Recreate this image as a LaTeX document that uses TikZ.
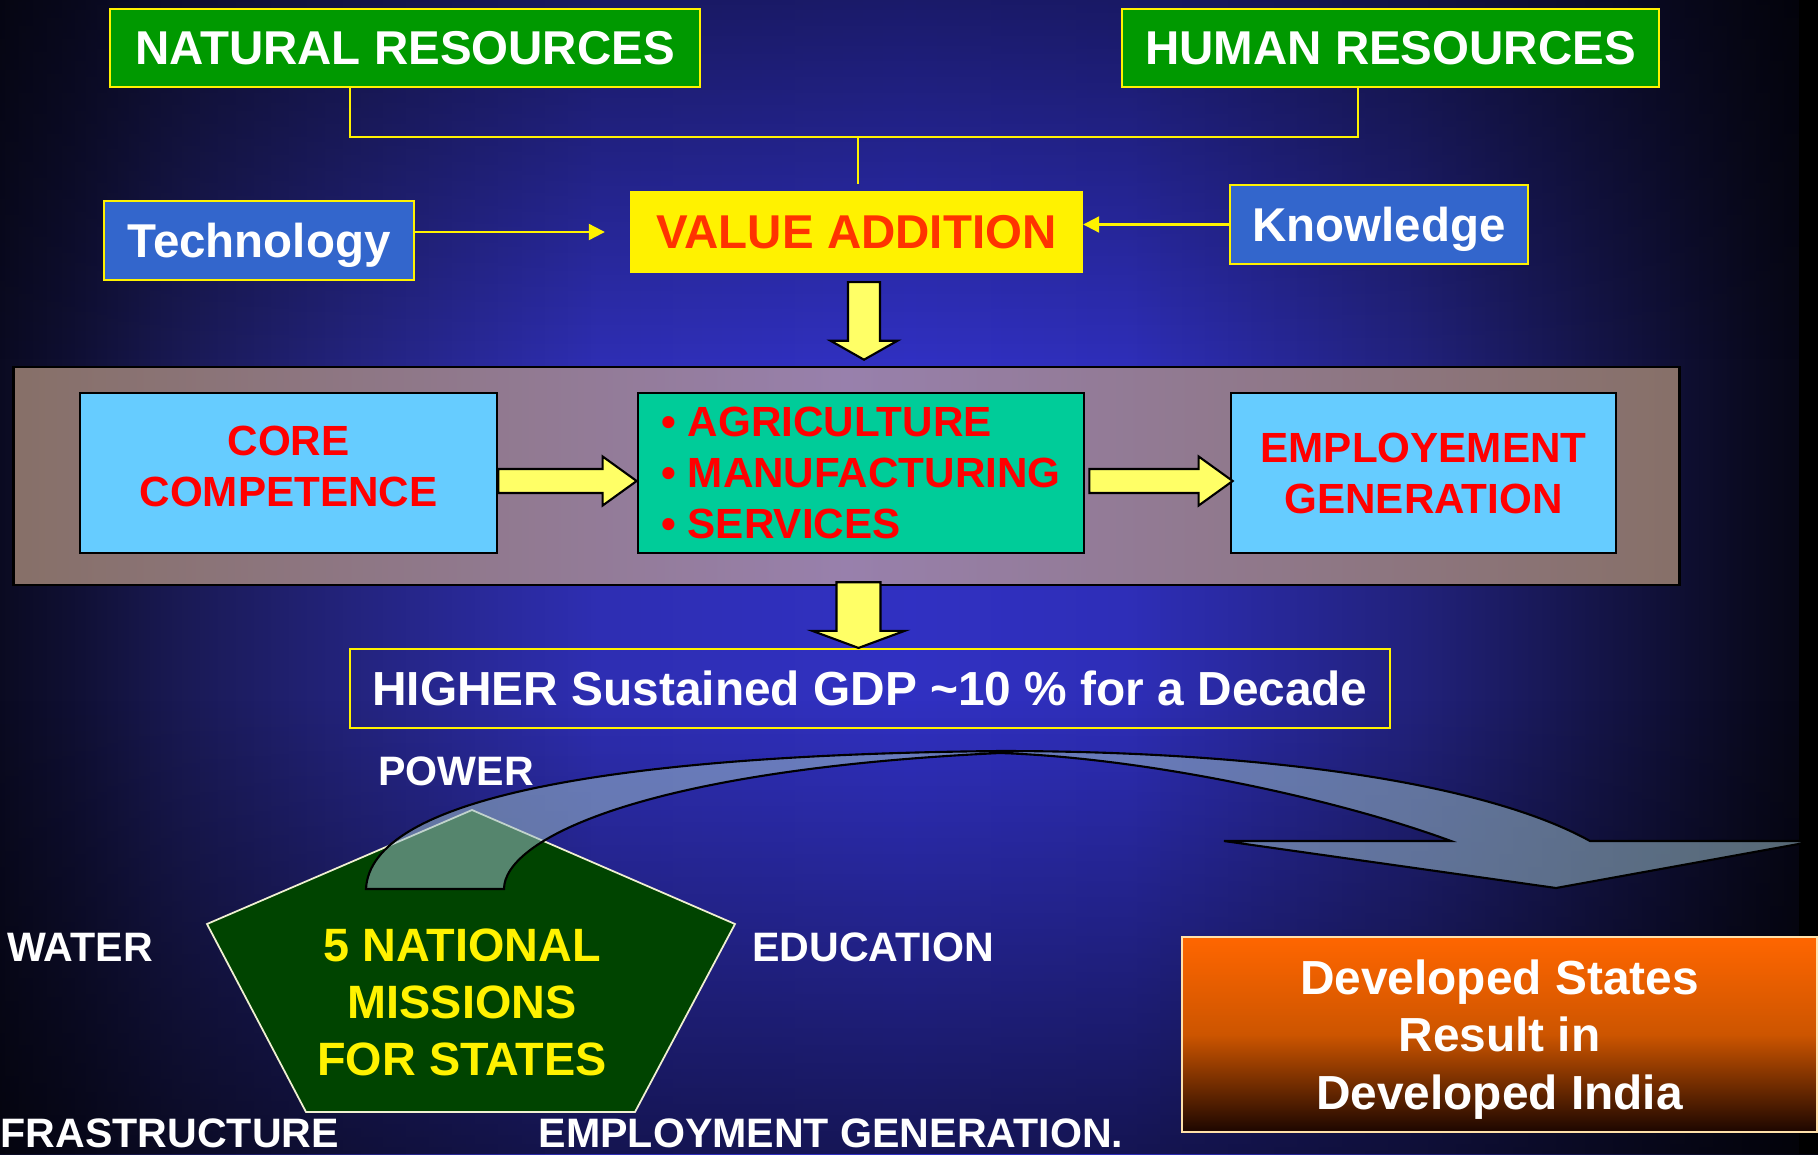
\documentclass[tikz,border=0pt]{standalone}
\usepackage{fontspec}
\setmainfont{Liberation Sans}
\usetikzlibrary{arrows.meta,calc,fadings}

\definecolor{resgreen}{RGB}{0,153,0}
\definecolor{keyblue}{RGB}{51,102,204}
\definecolor{vaorange}{RGB}{255,51,0}
\definecolor{stageblue}{RGB}{102,204,255}
\definecolor{stagegreen}{RGB}{0,204,153}
\definecolor{paleyellow}{RGB}{255,255,102}
\definecolor{bandedge}{RGB}{135,112,104}
\definecolor{bandmid}{RGB}{152,128,172}
\definecolor{pentagreen}{RGB}{0,68,0}
\definecolor{pentaedge}{RGB}{240,240,210}
\definecolor{ribbonblue}{RGB}{155,188,200}
\definecolor{devtop}{RGB}{255,102,0}
\definecolor{devmid}{RGB}{205,85,0}
\definecolor{devbottom}{RGB}{28,6,0}
\definecolor{devedge}{RGB}{255,225,170}

% slide background, dark at both sides
\pgfdeclarehorizontalshading{slidebg}{100bp}{rgb(0bp)=(0.04,0.04,0.13); rgb(25bp)=(0.04,0.04,0.13); rgb(27bp)=(0.06,0.06,0.2); rgb(30bp)=(0.1,0.1,0.33); rgb(35bp)=(0.14,0.14,0.5); rgb(41.5bp)=(0.18,0.18,0.7); rgb(50bp)=(0.19,0.19,0.76); rgb(56bp)=(0.18,0.18,0.72); rgb(64bp)=(0.13,0.13,0.48); rgb(69bp)=(0.08,0.08,0.28); rgb(73bp)=(0.04,0.04,0.13); rgb(75bp)=(0.02,0.02,0.07); rgb(100bp)=(0.02,0.02,0.07)}

\tikzset{
	resbox/.style={draw=yellow, line width=0.6pt, fill=resgreen, text=white, minimum height=0.78cm, inner sep=0pt, text depth=0pt, font=\bfseries\fontsize{13.5}{16}\selectfont},
	keybox/.style={resbox, fill=keyblue, minimum height=0.79cm},
	vabox/.style={resbox, fill=yellow, text=vaorange, minimum width=4.51cm, minimum height=0.8cm},
	bandbox/.style={draw=black, line width=0.7pt, left color=bandedge, right color=bandedge, middle color=bandmid, minimum width=16.65cm, minimum height=2.18cm, inner sep=0pt},
	stagebox/.style={draw=black, line width=0.7pt, text=red, minimum height=1.6cm, inner sep=0pt, text depth=0pt, align=center, font=\bfseries\fontsize{12}{14.5}\selectfont},
	gdpbox/.style={draw=yellow, line width=0.6pt, text=white, minimum width=10.4cm, minimum height=0.79cm, inner sep=0pt, text depth=0pt, font=\bfseries\fontsize{13.6}{16}\selectfont},
	devbox/.style={draw=devedge, line width=0.5pt, top color=devtop, bottom color=devbottom, middle color=devmid, text=white, align=center, minimum width=6.35cm, minimum height=1.95cm, inner sep=0pt, text depth=0pt, font=\bfseries\fontsize{13.6}{16.4}\selectfont},
	missiontext/.style={text=yellow, align=center, inner sep=0pt, text depth=0pt, font=\bfseries\fontsize{13.3}{16.2}\selectfont},
	sidelabel/.style={text=white, inner sep=0pt, text depth=0pt, font=\bfseries\fontsize{11.7}{14}\selectfont},
	yline/.style={yellow, line width=0.6pt},
	yarrow/.style={yline, -{Triangle[length=0.16cm, width=0.16cm]}},
	blockarrow/.style={draw=black, line width=0.6pt, fill=paleyellow, line join=miter},
	missionshape/.style={draw=pentaedge, line width=0.5pt, fill=pentagreen},
	ribbon/.style={draw=black, line width=0.6pt, fill=ribbonblue, fill opacity=0.55}
}

% fat yellow arrows between boxes
\newcommand{\blockright}[2]{%
	\draw [blockarrow] let \p1=(#1), \p2=(#2) in
		($(\x1,\y1)+(0,-12)$) -- ($(\x2,\y1)+(-34,-12)$) -- ($(\x2,\y1)+(-34,-24.5)$) -- (\x2,\y1)
		-- ($(\x2,\y1)+(-34,24.5)$) -- ($(\x2,\y1)+(-34,12)$) -- ($(\x1,\y1)+(0,12)$) -- cycle;}
\newcommand{\blockdown}[5]{%
	\draw [blockarrow] let \p1=(#1), \p2=(#2) in
		($(\x1,\y1)+(-#3,0)$) -- ($(\x1,\y1)+(#3,0)$) -- ($(\x1,\y2)+(#3,-#5)$) -- ($(\x1,\y2)+(#4,-#5)$) -- (\x1,\y2)
		-- ($(\x1,\y2)+(-#4,-#5)$) -- ($(\x1,\y2)+(-#3,-#5)$) -- cycle;}

\begin{document}
\begin{tikzpicture}[x=0.01cm, y=-0.01cm]
	\useasboundingbox (0,0) rectangle (1818,1154);
	\shade [shading=slidebg] (0,0) rectangle (1818,1154);
	\fill [black, path fading=south, fill opacity=0.45] (0,0) rectangle (1818,360);
	\fill [black, path fading=north, fill opacity=0.55] (0,700) rectangle (1818,1154);
	\fill [black] (1799,0) rectangle (1818,1154);

	\node [resbox, minimum width=5.9cm] (nr) at (405,48) {NATURAL RESOURCES};
	\node [resbox, minimum width=5.37cm] (hr) at (1390.5,48) {HUMAN RESOURCES};
	\node [keybox, minimum width=3.1cm] (tech) at (259,240.5) {Technology};
	\node [vabox] (va) at (856.5,232) {VALUE ADDITION};
	\node [keybox, minimum width=2.98cm] (kn) at (1379,224.5) {Knowledge};

	\coordinate (join) at (858,137);
	\draw [yline] ($(nr.south)+(-55,0)$) |- (join) -| ($(hr.south)+(-32.5,0)$);
	\draw [yline] (join) -- ($(va.north)+(1.5,-7)$);
	\draw [yarrow] (tech.east |- va.west) -- ($(va.west)+(-25,0)$);
	\draw [yarrow] (kn.west) -- (kn.west -| va.east);

	\node [bandbox] (band) at (846.5,476) {};
	\node [stagebox, fill=stageblue, minimum width=4.17cm, text depth=0.13cm] (core) at (288.5,473) {CORE\\COMPETENCE};
	\node [stagebox, fill=stagegreen, minimum width=4.46cm, align=left] (sec) at (861,473) {\textbullet\ AGRICULTURE\\\textbullet\ MANUFACTURING\\\textbullet\ SERVICES};
	\node [stagebox, fill=stageblue, minimum width=3.85cm] (emp) at (1423.5,473) {EMPLOYEMENT\\GENERATION};
	\node [gdpbox] (gdp) at (870,688.5) {HIGHER Sustained GDP \textasciitilde10 \% for a Decade};

	\blockdown{$(va.south)+(7.5,9)$}{$(band.north)+(0,-6)$}{16}{33.5}{19}
	\blockright{$(core.east)+(0,8)$}{$(sec.west)+(0,8)$}
	\blockright{$(sec.east)+(4,8)$}{$(emp.west)+(3,8)$}
	\blockdown{$(sec.south)+(-2.5,28)$}{gdp.north}{22}{46}{17}

	% five missions
	\draw [missionshape] (472,810) -- (735,924) -- (635,1112) -- (306,1112) -- (207,924) -- cycle;
	\draw [ribbon] (366,889) .. controls (370,800) and (600,755) .. (1000,751)
		.. controls (1250,751) and (1480,780) .. (1590,841) -- (1815,841) -- (1556,888) -- (1224,841) -- (1451,841)
		.. controls (1340,800) and (1150,758) .. (1000,753)
		.. controls (640,770) and (504,840) .. (504,889) -- cycle;
	\node [missiontext] (missions) at (462,1002) {5 NATIONAL\\MISSIONS\\FOR STATES};
	\node [sidelabel] (power) at (456,771) {POWER};
	\node [sidelabel] (water) at (80,947) {WATER};
	\node [sidelabel] (educ) at (873,947) {EDUCATION};
	\node [sidelabel, anchor=west] (infra) at (0,1133) {FRASTRUCTURE};
	\node [sidelabel] (employ) at (831,1133) {EMPLOYMENT GENERATION.};

	\node [devbox] (dev) at (1499.5,1034.5) {Developed States\\Result in\\Developed India};
\end{tikzpicture}
\end{document}
